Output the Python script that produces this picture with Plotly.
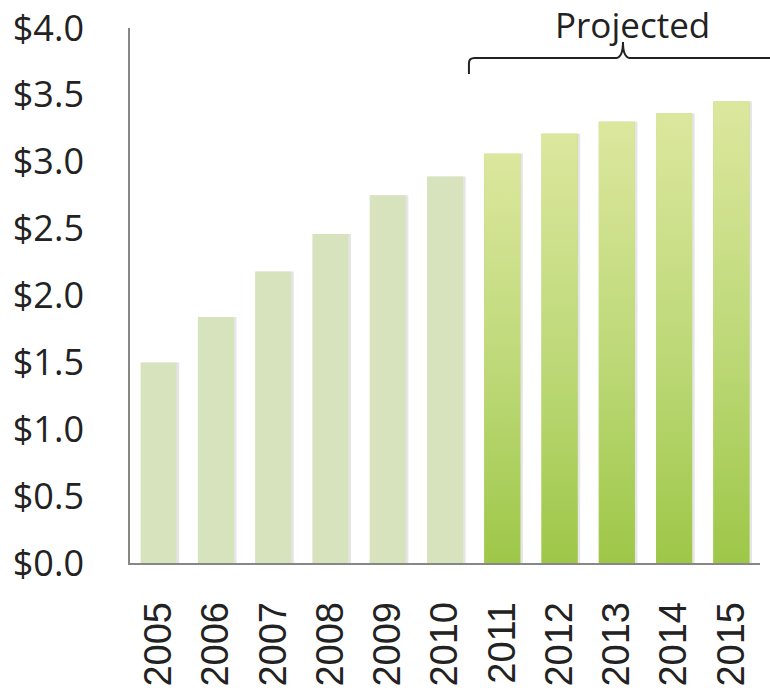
import plotly.graph_objects as go

# Annual values, in billions of dollars
years = ["2005", "2006", "2007", "2008", "2009", "2010",
         "2011", "2012", "2013", "2014", "2015"]
values = [1.50, 1.84, 2.18, 2.46, 2.75, 2.89, 3.06, 3.21, 3.30, 3.36, 3.45]
projected_from = "2011"

y_ticks = [0, 0.5, 1.0, 1.5, 2.0, 2.5, 3.0, 3.5, 4.0]

BAR_W = 0.63
HIST_COLOR = "#d7e3bc"
GRAD = [[0.0, "#9ec748"], [0.45, "#bcd876"], [1.0, "#dce79e"]]

xs = list(range(len(years)))
first_proj = years.index(projected_from)

fig = go.Figure()

# soft drop shadow behind every bar
fig.add_trace(go.Bar(
    x=[x + 0.035 for x in xs], y=values, width=BAR_W + 0.02,
    marker=dict(color="rgba(0,0,0,0.10)", line=dict(width=0)),
    hoverinfo="skip", showlegend=False,
))

# all bars (history in pale green, projection base colour)
fig.add_trace(go.Bar(
    x=xs, y=values, width=BAR_W,
    marker=dict(
        color=[HIST_COLOR if i < first_proj else "#b5d36a" for i in xs],
        line=dict(width=0),
    ),
    showlegend=False,
))

# vertical gradient fill for the projected years
for i in xs[first_proj:]:
    v = values[i]
    x0, x1 = i - BAR_W / 2, i + BAR_W / 2
    fig.add_trace(go.Scatter(
        x=[x0, x1, x1, x0, x0], y=[0, 0, v, v, 0],
        mode="lines", line=dict(width=0), fill="toself",
        fillgradient=dict(type="vertical", colorscale=GRAD, start=0, stop=v),
        hoverinfo="skip", showlegend=False,
    ))

fig.update_layout(
    width=770, height=691,
    margin=dict(l=130, r=10, t=28, b=128),
    plot_bgcolor="white", paper_bgcolor="white",
    bargap=0.37,
    xaxis=dict(
        range=[-0.5, len(years) - 0.5],
        tickvals=xs, ticktext=years, tickangle=-90,
        tickfont=dict(family="Liberation Sans, Arial", size=38, color="#222222"),
        showgrid=False, zeroline=False,
        showline=True, linecolor="#878787", linewidth=1.6,
        ticks="", ticklabelstandoff=22, automargin=False,
    ),
    yaxis=dict(
        range=[0, 4], tickvals=y_ticks, tickformat="$.1f",
        tickfont=dict(family="Open Sans", size=36, color="#222222"),
        showgrid=False, zeroline=False,
        showline=True, linecolor="#878787", linewidth=1.6,
        ticks="", ticklabelstandoff=37, automargin=False,
    ),
    font=dict(family="Open Sans"),
)

# curly bracket over the projected years
fig.add_shape(
    type="path", xref="paper", yref="paper",
    path=("M 0.538,0.914 L 0.538,0.934 Q 0.538,0.944 0.547,0.944 "
          "L 0.772,0.944 Q 0.7825,0.946 0.7825,0.974 "
          "Q 0.7825,0.946 0.793,0.944 L 1.03,0.944"),
    line=dict(color="#222222", width=2),
)
fig.add_annotation(
    xref="paper", yref="paper", x=0.797, y=1.052,
    text="Projected", showarrow=False, xanchor="center", yanchor="top",
    borderpad=0,
    font=dict(family="Open Sans", size=35, color="#222222"),
)

fig.write_html("out.html")
